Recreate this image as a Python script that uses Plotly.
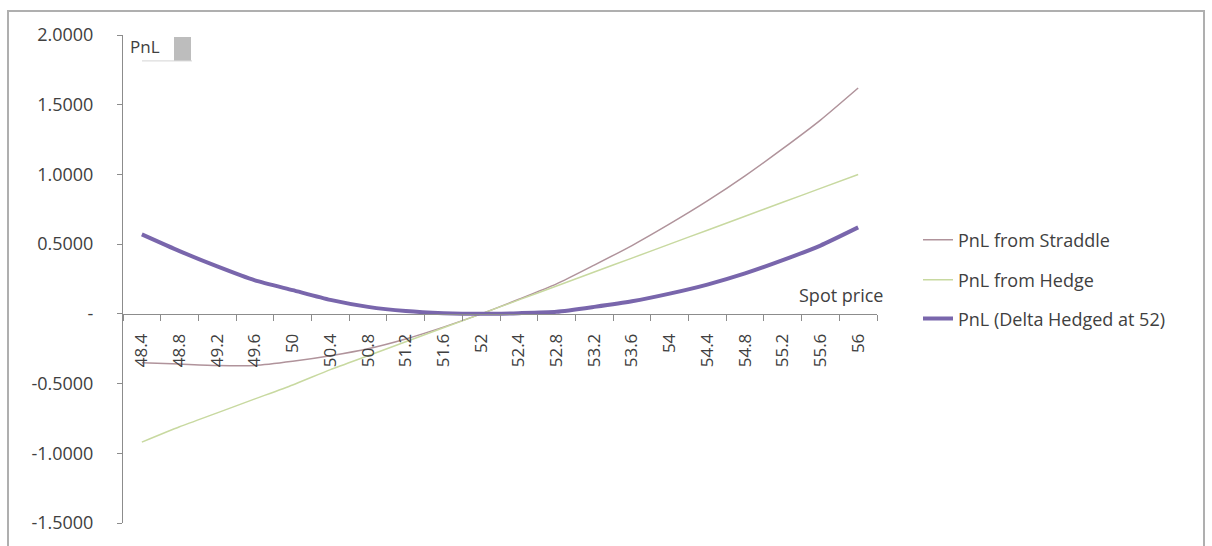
import plotly.graph_objects as go

spot = ["48.4", "48.8", "49.2", "49.6", "50", "50.4", "50.8", "51.2", "51.6", "52",
        "52.4", "52.8", "53.2", "53.6", "54", "54.4", "54.8", "55.2", "55.6", "56"]
pnl_straddle = [-0.35, -0.36, -0.37, -0.37, -0.34, -0.30, -0.25, -0.18, -0.095, 0.00,
                0.105, 0.215, 0.35, 0.49, 0.645, 0.81, 0.99, 1.185, 1.39, 1.62]
pnl_hedge = [-0.92, -0.81, -0.71, -0.61, -0.51, -0.40, -0.30, -0.20, -0.10, 0.00,
             0.10, 0.20, 0.30, 0.40, 0.50, 0.60, 0.70, 0.80, 0.90, 1.00]
pnl_delta_hedged = [0.57, 0.45, 0.34, 0.24, 0.17, 0.10, 0.05, 0.02, 0.005, 0.00,
                    0.005, 0.015, 0.05, 0.09, 0.145, 0.21, 0.29, 0.385, 0.49, 0.62]

ytick_vals = [2, 1.5, 1, 0.5, 0, -0.5, -1, -1.5]
ytick_text = ["2.0000", "1.5000", "1.0000", "0.5000", "-", "-0.5000", "-1.0000", "-1.5000"]

series_names = ["PnL from Straddle", "PnL from Hedge", "PnL (Delta Hedged at 52)"]

W, H = 1212, 546
L, R, T, B = 123, 877, 35, 525
FONT = "Open Sans"
TXT = "#404040"

def px(x):
    return (x - L) / (R - L)

def py(y):
    return (B - y) / (B - T)

fig = go.Figure()
fig.add_trace(go.Scatter(x=spot, y=pnl_straddle, mode="lines", name=series_names[0],
                         line=dict(color="#B0939B", width=1.5, shape="spline", smoothing=0.6),
                         legend="legend", showlegend=True))
fig.add_trace(go.Scatter(x=spot, y=pnl_hedge, mode="lines", name=series_names[1],
                         line=dict(color="#C8D9A0", width=1.5, shape="spline", smoothing=0.6),
                         legend="legend2", showlegend=True))
fig.add_trace(go.Scatter(x=spot, y=pnl_delta_hedged, mode="lines", name=series_names[2],
                         line=dict(color="#7966AC", width=4, shape="spline", smoothing=0.6),
                         legend="legend3", showlegend=True))

leg_common = dict(xanchor="left", yanchor="middle", bgcolor="rgba(0,0,0,0)",
                  borderwidth=0, font=dict(family=FONT, size=18, color=TXT))

zero_frac = 1.5 / 3.5
LEGX = 918

fig.update_layout(
    width=W, height=H,
    showlegend=True,
    margin=dict(l=L, r=W - R, t=T, b=H - B, pad=0),
    paper_bgcolor="white", plot_bgcolor="white",
    font=dict(family=FONT, color=TXT),
    legend=dict(x=px(LEGX), y=py(241), **leg_common),
    legend2=dict(x=px(LEGX), y=py(281), **leg_common),
    legend3=dict(x=px(LEGX), y=py(320), **leg_common),
    xaxis=dict(
        type="category", anchor="free", position=zero_frac,
        range=[-0.5, len(spot) - 0.5],
        showline=True, linecolor="#8C8C8C", linewidth=1,
        ticks="outside", ticklen=6, tickcolor="#8C8C8C", tickson="boundaries",
        tickangle=-90, ticklabelstandoff=12,
        tickfont=dict(family=FONT, size=17, color=TXT),
        showgrid=False, zeroline=False,
    ),
    yaxis=dict(
        range=[-1.5, 2], tickvals=ytick_vals, ticktext=ytick_text,
        showline=True, linecolor="#8C8C8C", linewidth=1,
        ticks="outside", ticklen=5, tickcolor="#8C8C8C",
        ticklabelstandoff=20,
        tickfont=dict(family=FONT, size=18, color=TXT),
        showgrid=False, zeroline=False,
    ),
    shapes=[
        dict(type="rect", xref="paper", yref="paper",
             x0=px(8), x1=px(1204), y0=py(11), y1=py(560),
             line=dict(color="#AFAFAF", width=2), fillcolor="rgba(0,0,0,0)", layer="below"),
        dict(type="rect", xref="paper", yref="paper",
             x0=px(174), x1=px(191), y0=py(37), y1=py(61),
             line=dict(width=0), fillcolor="#BDBDBD"),
        dict(type="line", xref="paper", yref="paper",
             x0=px(142), x1=px(192), y0=py(61), y1=py(61),
             line=dict(color="#D4D4D4", width=1)),
    ],
    annotations=[
        dict(text="PnL", xref="paper", yref="paper", x=px(145), y=py(47),
             xanchor="center", yanchor="middle", showarrow=False,
             font=dict(family=FONT, size=17, color=TXT)),
        dict(text="Spot price", xref="paper", yref="paper", x=px(841), y=py(296),
             xanchor="center", yanchor="middle", showarrow=False,
             font=dict(family=FONT, size=18, color=TXT)),
    ],
)

fig.write_html("out.html")
